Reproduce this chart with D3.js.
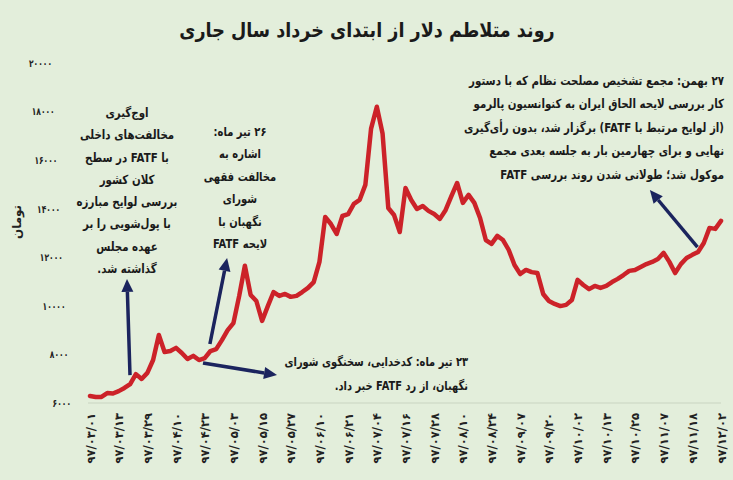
<!DOCTYPE html>
<html>
<head>
<meta charset="utf-8">
<script src="https://cdn.jsdelivr.net/npm/d3@7"></script>
<style>
  html, body { margin: 0; padding: 0; background: #e3eedb; }
  svg { display: block; font-family: 'DejaVu Sans', sans-serif; }
</style>
</head>
<body>
<div id="chart"></div>
<script>
// Dollar rate (toman), one value every ~2 trading days, 5 per date label
const values = [
  6290, 6250, 6250, 6410, 6390,
  6490, 6620, 6780, 7190, 6990,
  7240, 7770, 8800, 8100, 8140,
  8270, 8060, 7810, 7940, 7770,
  7850, 8140, 8220, 8590, 9000,
  9290, 10400, 11650, 10450, 10200,
  9380, 9990, 10570, 10410, 10490,
  10370, 10410, 10570, 10740, 10980,
  11810, 13660, 13370, 12960, 13700,
  13780, 14200, 14360, 14980, 17300,
  18200, 17100, 14030, 13740, 13040,
  14850, 14360, 13990, 14110, 13910,
  13780, 13580, 13950, 14520, 15060,
  14240, 14570, 14240, 13620, 12710,
  12550, 12880, 12710, 12300, 11680,
  11310, 11480, 11390, 11350, 10490,
  10200, 10080, 9990, 10040, 10240,
  11070, 10860, 10690, 10820, 10740,
  10820, 10980, 11110, 11270, 11440,
  11480, 11600, 11720, 11810, 11930,
  12180, 11810, 11350, 11720, 11970,
  12100, 12220, 12590, 13210, 13170,
  13500
];

const dateLabels = [
  '97/03/01', '97/03/13', '97/03/29', '97/04/10', '97/04/23', '97/05/03',
  '97/05/15', '97/05/27', '97/06/10', '97/06/21', '97/07/04', '97/07/16',
  '97/07/28', '97/08/10', '97/08/24', '97/09/07', '97/09/20', '97/10/02',
  '97/10/13', '97/10/25', '97/11/07', '97/11/18', '97/12/02'
];
const labelStep = 5;

const yTicks = [6000, 8000, 10000, 12000, 14000, 16000, 18000, 20000];

// arrows in data space: [index, value] -> [index, value]
const arrows = [
  { from: [6.97, 7150], to: [6.45, 11110] },
  { from: [20.9, 8430], to: [23.9, 11970] },
  { from: [19.7, 7650], to: [32.6, 7150] },
  { from: [105.9, 12420], to: [97.6, 14770] }
];

const leftNote = [
  'اوج‌گیری', 'مخالفت‌های داخلی', 'با FATF در سطح', 'کلان کشور',
  'بررسی لوایح مبارزه', 'با پول‌شویی را بر', 'عهده مجلس', 'گذاشته شد.'
];
const midNote = ['۲۶ تیر ماه:', 'اشاره به', 'مخالفت فقهی', 'شورای', 'نگهبان با', 'لایحه FATF'];
const rightNote = [
  '۲۷ بهمن: مجمع تشخیص مصلحت نظام که با دستور',
  'کار بررسی لایحه الحاق ایران به کنوانسیون پالرمو',
  '(از لوایح مرتبط با FATF) برگزار شد، بدون رأی‌گیری',
  'نهایی و برای چهارمین بار به جلسه بعدی مجمع',
  'موکول شد؛ طولانی شدن روند بررسی FATF'
];
const bottomNote = ['۲۳ تیر ماه: کدخدایی، سخنگوی شورای', 'نگهبان، از رد FATF خبر داد.'];

const faDigits = '۰۱۲۳۴۵۶۷۸۹';
function toFa(s) {
  return String(s).replace(/[0-9]/g, d => faDigits[+d]);
}

const width = 733;
const height = 480;

const svg = d3.select('#chart')
  .append('svg')
  .attr('width', width)
  .attr('height', height);

svg.append('rect')
  .attr('width', width)
  .attr('height', height)
  .attr('fill', '#e3eedb');

const x = d3.scaleLinear()
  .domain([0, values.length - 1])
  .range([90, 721]);

const y = d3.scaleLinear()
  .domain([6000, 20000])
  .range([403, 63]);

// squeeze text horizontally around its anchor (source font is narrower)
function squeeze(xPos, sx) {
  return `translate(${xPos},0) scale(${sx},1) translate(${-xPos},0)`;
}

// title
svg.append('text')
  .attr('x', 367)
  .attr('y', 37)
  .attr('transform', squeeze(367, 0.88))
  .attr('text-anchor', 'middle')
  .attr('direction', 'rtl')
  .attr('font-size', '20px')
  .attr('font-weight', 'bold')
  .attr('fill', '#1a1a1a')
  .text('روند متلاطم دلار از ابتدای خرداد سال جاری');

// x axis
const xAxis = svg.append('g')
  .attr('transform', `translate(0,${y(6000)})`)
  .call(d3.axisBottom(x)
    .tickValues(dateLabels.map((d, i) => i * labelStep))
    .tickSize(0)
    .tickPadding(0)
    .tickFormat((d, i) => toFa(dateLabels[i])));

xAxis.select('.domain')
  .attr('stroke', '#c9d3c2')
  .attr('stroke-width', 1.2)
  .attr('d', `M${x(0) - 2},0H${x(values.length - 1)}`);

xAxis.selectAll('.tick text')
  .attr('transform', 'rotate(-90)')
  .attr('text-anchor', 'end')
  .attr('direction', 'ltr')
  .attr('x', -10)
  .attr('y', 0)
  .attr('dy', '0.35em')
  .attr('font-size', '11.5px')
  .attr('font-weight', 'bold')
  .attr('font-family', "'DejaVu Sans', sans-serif")
  .attr('fill', '#222');

// y axis (labels only, drifting slightly as in the source)
const labelX = d3.scaleLinear().domain([20000, 6000]).range([52, 71]);
const yAxis = svg.append('g')
  .call(d3.axisLeft(y)
    .tickValues(yTicks)
    .tickSize(0)
    .tickFormat(d => toFa(d)));

yAxis.select('.domain').remove();
yAxis.selectAll('.tick text')
  .attr('x', 0)
  .attr('transform', d => `translate(${labelX(d)},0) scale(0.72,1)`)
  .attr('text-anchor', 'end')
  .attr('font-size', '10.5px')
  .attr('font-weight', 'bold')
  .attr('font-family', "'DejaVu Sans', sans-serif")
  .attr('fill', '#222');

svg.append('text')
  .attr('transform', 'translate(21,222) rotate(-90)')
  .attr('text-anchor', 'middle')
  .attr('font-size', '12px')
  .attr('font-weight', 'bold')
  .attr('fill', '#222')
  .text('تومان');

// price line
const line = d3.line()
  .x((d, i) => x(i))
  .y(d => y(d));

svg.append('path')
  .datum(values)
  .attr('fill', 'none')
  .attr('stroke', '#cc2229')
  .attr('stroke-width', 4.5)
  .attr('stroke-linejoin', 'round')
  .attr('stroke-linecap', 'round')
  .attr('d', line);

// arrows
const arrowColor = '#1b245e';
arrows.forEach(a => {
  const x1 = x(a.from[0]), y1 = y(a.from[1]);
  const x2 = x(a.to[0]), y2 = y(a.to[1]);
  const ang = Math.atan2(y2 - y1, x2 - x1);
  const headLen = 13, headW = 6;
  const bx = x2 - headLen * Math.cos(ang);
  const by = y2 - headLen * Math.sin(ang);

  svg.append('line')
    .attr('x1', x1).attr('y1', y1)
    .attr('x2', bx).attr('y2', by)
    .attr('stroke', arrowColor)
    .attr('stroke-width', 3.5);

  const px = -Math.sin(ang) * headW, py = Math.cos(ang) * headW;
  svg.append('path')
    .attr('d', `M${x2},${y2}L${bx + px},${by + py}L${bx - px},${by - py}Z`)
    .attr('fill', arrowColor);
});

// annotation blocks
function note(lines, xPos, yStart, step, anchor, size, sx) {
  const t = svg.append('g').attr('transform', squeeze(xPos, sx));
  lines.forEach((s, i) => {
    t.append('text')
      .attr('x', xPos)
      .attr('y', yStart + i * step)
      .attr('direction', 'rtl')
      .attr('text-anchor', anchor)
      .attr('font-size', size)
      .attr('font-weight', 'bold')
      .attr('fill', '#1a1a1a')
      .text(s);
  });
  return t;
}

note(leftNote, 127, 117, 22.3, 'middle', '12.5px', 0.82);
note(midNote, 240, 136, 22.5, 'middle', '12.5px', 0.8);
note(rightNote, 724, 85, 23.4, 'start', '12.5px', 0.82);
note(bottomNote, 468, 366, 24, 'start', '12.5px', 0.79);
</script>
</body>
</html>
